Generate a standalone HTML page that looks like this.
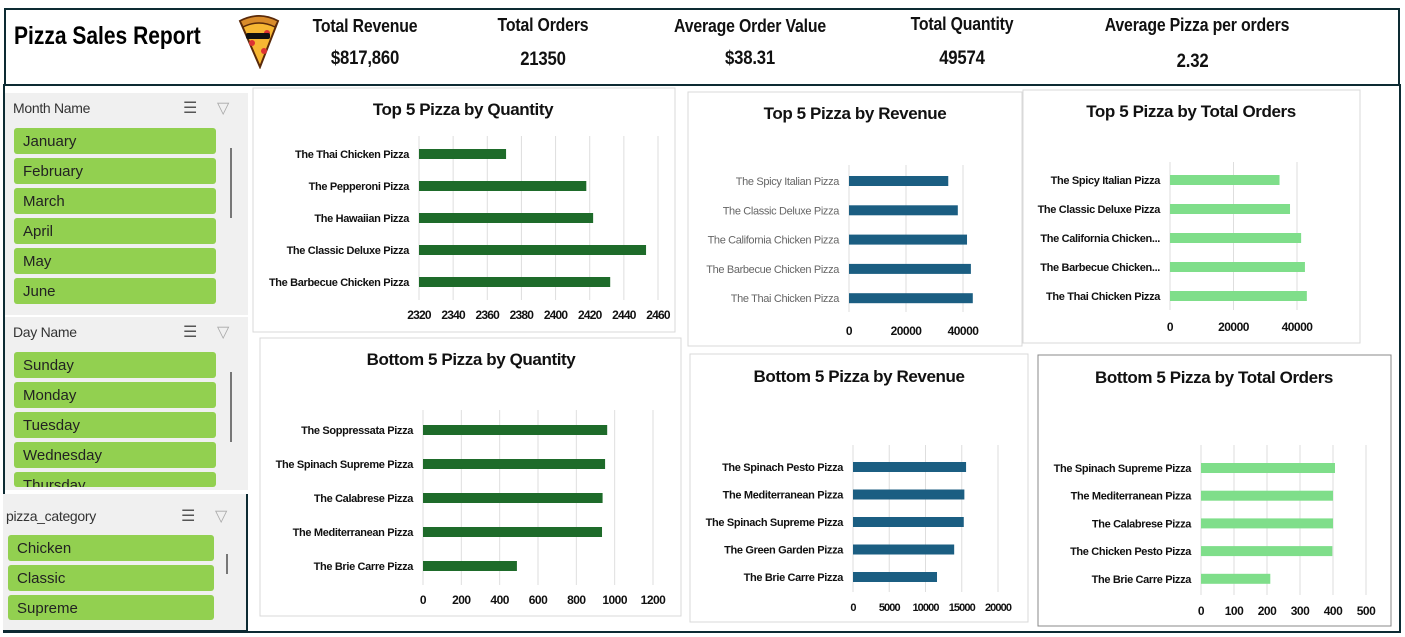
<!DOCTYPE html>
<html><head><meta charset="utf-8">
<style>
*{box-sizing:border-box;margin:0;padding:0}
body{width:1405px;height:637px;background:#fff;position:relative;overflow:hidden;font-family:"Liberation Sans",sans-serif;color:#111}
.abs{position:absolute}
.kpi{position:absolute;text-align:center;font-weight:bold;font-size:18px;width:260px;transform:scaleX(0.88);letter-spacing:-0.2px}
.kpi .v{position:absolute;left:0;width:100%;top:32px}
.slicer{position:absolute;background:#f0f0f0}
.sh{position:absolute;font-size:14px;color:#333;letter-spacing:-0.3px}
.item{position:absolute;background:#92d050;border-radius:3px;height:26px;line-height:27px;padding-left:9px;color:#222;font-size:15px}
.ico{position:absolute;font-size:16px;color:#555}
.scroll{position:absolute;width:2px;background:#777}
svg text{font-family:"Liberation Sans",sans-serif}
</style></head><body>
<div class="abs" style="left:3px;top:84px;width:1398px;height:549px;border:2px solid #0d2b33;border-top:none"></div>
<div class="abs" style="left:4px;top:8px;width:1396px;height:78px;border:2px solid #0d2b33;background:#fff"></div>
<div class="abs" style="left:14px;top:22px;font-size:25px;font-weight:bold;color:#000;transform:scaleX(0.84);transform-origin:left;white-space:nowrap">Pizza Sales Report</div>
<svg class="abs" style="left:234px;top:13px" width="50" height="56" viewBox="0 0 50 56">
<path d="M6 8 Q25 -2 44 8 L26 54 Z" fill="#f7b733" stroke="#5a2a0a" stroke-width="2"/>
<path d="M6 8 Q25 -2 44 8 L41 14 Q25 6 9 14 Z" fill="#d98c2b" stroke="#5a2a0a" stroke-width="1.5"/>
<circle cx="18" cy="30" r="3" fill="#d33"/><circle cx="30" cy="38" r="3" fill="#d33"/><circle cx="33" cy="20" r="3" fill="#d33"/>
<rect x="12" y="20" width="24" height="6" rx="2" fill="#111"/>
</svg>
<div class="kpi" style="left:235px;top:16px">Total Revenue<div class="v" style="font-size:19px">$817,860</div></div>
<div class="kpi" style="left:413px;top:15px">Total Orders<div class="v" style="top:34px;font-size:19px">21350</div></div>
<div class="kpi" style="left:620px;top:16px">Average Order Value<div class="v" style="font-size:19px">$38.31</div></div>
<div class="kpi" style="left:832px;top:14px">Total Quantity<div class="v" style="top:34px;font-size:19px">49574</div></div>
<div class="kpi" style="left:1057px;top:15px;width:280px">Average Pizza per orders<div class="v" style="top:36px;left:-5px;font-size:19px">2.32</div></div>

<div class="slicer" style="left:5px;top:93px;width:243px;height:222px">
<div class="sh" style="left:8px;top:7px">Month Name</div>
<div class="ico" style="left:178px;top:5px">☰</div>
<div class="ico" style="left:212px;top:5px;color:#aaa">▽</div>
<div class="scroll" style="left:225px;top:55px;height:70px"></div>
</div>
<div class="slicer" style="left:5px;top:317px;width:243px;height:173px">
<div class="sh" style="left:8px;top:7px">Day Name</div>
<div class="ico" style="left:178px;top:5px">☰</div>
<div class="ico" style="left:212px;top:5px;color:#aaa">▽</div>
<div class="scroll" style="left:225px;top:55px;height:70px"></div>
</div>
<div class="slicer" style="left:3px;top:494px;width:245px;height:138px;border-right:2px solid #0d2b33;border-bottom:2px solid #0d2b33">
<div class="sh" style="left:3px;top:14px">pizza_category</div>
<div class="ico" style="left:178px;top:12px">☰</div>
<div class="ico" style="left:212px;top:12px;color:#aaa">▽</div>
<div class="scroll" style="left:223px;top:60px;height:20px"></div>
</div>
<div id="items"></div>
<svg id="charts" class="abs" style="left:0;top:0" width="1405" height="637"></svg>

<script>
const months=["January","February","March","April","May","June"];
const days=["Sunday","Monday","Tuesday","Wednesday","Thursday"];
const cats=["Chicken","Classic","Supreme"];
const itemsDiv=document.getElementById('items');
function addItems(list,x,y0,w,clipY){
  list.forEach((t,i)=>{
    const y=y0+i*30;
    const d=document.createElement('div');
    d.className='item';
    
    
    d.style.left=x+'px';d.style.top=y+'px';d.style.width=w+'px';
    if(clipY&&y+26>clipY){d.style.height=(clipY-y)+'px';d.style.overflow='hidden';}
    d.textContent=t;itemsDiv.appendChild(d);
  });
}
addItems(months,14,128,202,313);
addItems(days,14,352,202,487);
addItems(cats,8,535,206,620);

const topQtyCats=["The Thai Chicken Pizza","The Pepperoni Pizza","The Hawaiian Pizza","The Classic Deluxe Pizza","The Barbecue Chicken Pizza"];
const topQtyVals=[2371,2418,2422,2453,2432];
const topQtyTicks=[2320,2340,2360,2380,2400,2420,2440,2460];
const topRevCats=["The Spicy Italian Pizza","The Classic Deluxe Pizza","The California Chicken Pizza","The Barbecue Chicken Pizza","The Thai Chicken Pizza"];
const topRevVals=[34831,38180,41410,42768,43434];
const topRevTicks=[0,20000,40000];
const topOrdCats=["The Spicy Italian Pizza","The Classic Deluxe Pizza","The California Chicken...","The Barbecue Chicken...","The Thai Chicken Pizza"];
const topOrdVals=[34500,37800,41300,42500,43100];
const topOrdTicks=[0,20000,40000];
const botQtyCats=["The Soppressata Pizza","The Spinach Supreme Pizza","The Calabrese Pizza","The Mediterranean Pizza","The Brie Carre Pizza"];
const botQtyVals=[961,950,937,934,490];
const botQtyTicks=[0,200,400,600,800,1000,1200];
const botRevCats=["The Spinach Pesto Pizza","The Mediterranean Pizza","The Spinach Supreme Pizza","The Green Garden Pizza","The Brie Carre Pizza"];
const botRevVals=[15596,15360,15278,13956,11588];
const botRevTicks=[0,5000,10000,15000,20000];
const botOrdCats=["The Spinach Supreme Pizza","The Mediterranean Pizza","The Calabrese Pizza","The Chicken Pesto Pizza","The Brie Carre Pizza"];
const botOrdVals=[406,400,400,398,210];
const botOrdTicks=[0,100,200,300,400,500];

const NS='http://www.w3.org/2000/svg';
const svg=document.getElementById('charts');
function el(tag,attrs,parent){const e=document.createElementNS(NS,tag);for(const k in attrs)e.setAttribute(k,attrs[k]);(parent||svg).appendChild(e);return e;}

function chart(o){
  const g=el('g',{});
  
  
  const box=el('rect',{x:o.px,y:o.py,width:o.pw,height:o.ph,fill:'#fff',stroke:o.border||'#d9d9d9','stroke-width':1},g);
  
  
  const t=el('text',{x:o.tx,y:o.ty,'text-anchor':'middle','font-size':17,'font-weight':'bold',fill:'#111','letter-spacing':'-0.4'},g);
  
  
  t.textContent=o.title;
  const tmin=o.ticks[0],tmax=o.ticks[o.ticks.length-1];
  const xs=v=>o.x0+(v-tmin)/(tmax-tmin)*(o.x1-o.x0);
  const ys=i=>o.y0+i*o.step;
  o.ticks.forEach(tv=>{
    const l=el('line',{x1:xs(tv),x2:xs(tv),y1:o.gTop,y2:o.gBot,stroke:'#dedede','stroke-width':1},g);
    
    
    const tl=el('text',{x:xs(tv),y:o.tickY,'text-anchor':'middle','font-size':o.tickFs||12,'font-weight':'bold',fill:'#111','letter-spacing':o.tickLs||'-0.5'},g);
    
    
    tl.textContent=tv;
  });
  o.cats.forEach((c,i)=>{
    const cl=el('text',{x:o.x0-10,y:ys(i)+4,'text-anchor':'end','font-size':11,'font-weight':o.labelBold?'bold':'normal',fill:o.labelColor||'#111','letter-spacing':'-0.35'},g);
    
    
    cl.textContent=c;
    const b=el('rect',{x:xs(tmin),y:ys(i)-o.bh/2,width:Math.max(0,xs(o.vals[i])-xs(tmin)),height:o.bh,fill:o.color},g);
    
    
  });
}
chart({name:'top5-quantity-chart',title:'Top 5 Pizza by Quantity',px:253,py:88,pw:422,ph:244,tx:463,ty:115,
  cats:topQtyCats,vals:topQtyVals,ticks:topQtyTicks,x0:419,x1:658,y0:154,step:32,bh:10,gTop:136,gBot:300,tickY:319,color:'#1e6b2a',labelBold:true,tickFs:12,tickLs:'-0.8'});
chart({name:'top5-revenue-chart',title:'Top 5 Pizza by Revenue',px:688,py:92,pw:334,ph:254,tx:855,ty:119,
  cats:topRevCats,vals:topRevVals,ticks:topRevTicks,x0:849,x1:963,y0:181,step:29.3,bh:10,gTop:165,gBot:312,tickY:335,color:'#1b5e82',labelColor:'#666'});
chart({name:'top5-orders-chart',title:'Top 5 Pizza by Total Orders',px:1023,py:90,pw:337,ph:253,tx:1191,ty:117,
  cats:topOrdCats,vals:topOrdVals,ticks:topOrdTicks,x0:1170,x1:1297,y0:180,step:29,bh:10,gTop:162,gBot:310,tickY:331,color:'#7fde8a',labelBold:true});
chart({name:'bottom5-quantity-chart',title:'Bottom 5 Pizza by Quantity',px:260,py:338,pw:421,ph:278,tx:471,ty:365,
  cats:botQtyCats,vals:botQtyVals,ticks:botQtyTicks,x0:423,x1:653,y0:430,step:34,bh:10,gTop:410,gBot:585,tickY:604,color:'#1e6b2a',labelBold:true});
chart({name:'bottom5-revenue-chart',title:'Bottom 5 Pizza by Revenue',px:690,py:354,pw:338,ph:268,tx:859,ty:382,
  cats:botRevCats,vals:botRevVals,ticks:botRevTicks,x0:853,x1:998,y0:467,step:27.5,bh:10,gTop:445,gBot:592,tickY:611,color:'#1b5e82',labelBold:true,tickFs:11,tickLs:'-0.9'});
chart({name:'bottom5-orders-chart',title:'Bottom 5 Pizza by Total Orders',px:1038,py:355,pw:353,ph:271,tx:1214,ty:383,
  cats:botOrdCats,vals:botOrdVals,ticks:botOrdTicks,x0:1201,x1:1366,y0:468,step:27.7,bh:10,gTop:445,gBot:595,tickY:615,color:'#7fde8a',labelBold:true,border:'#888'});
</script>
</body></html>
